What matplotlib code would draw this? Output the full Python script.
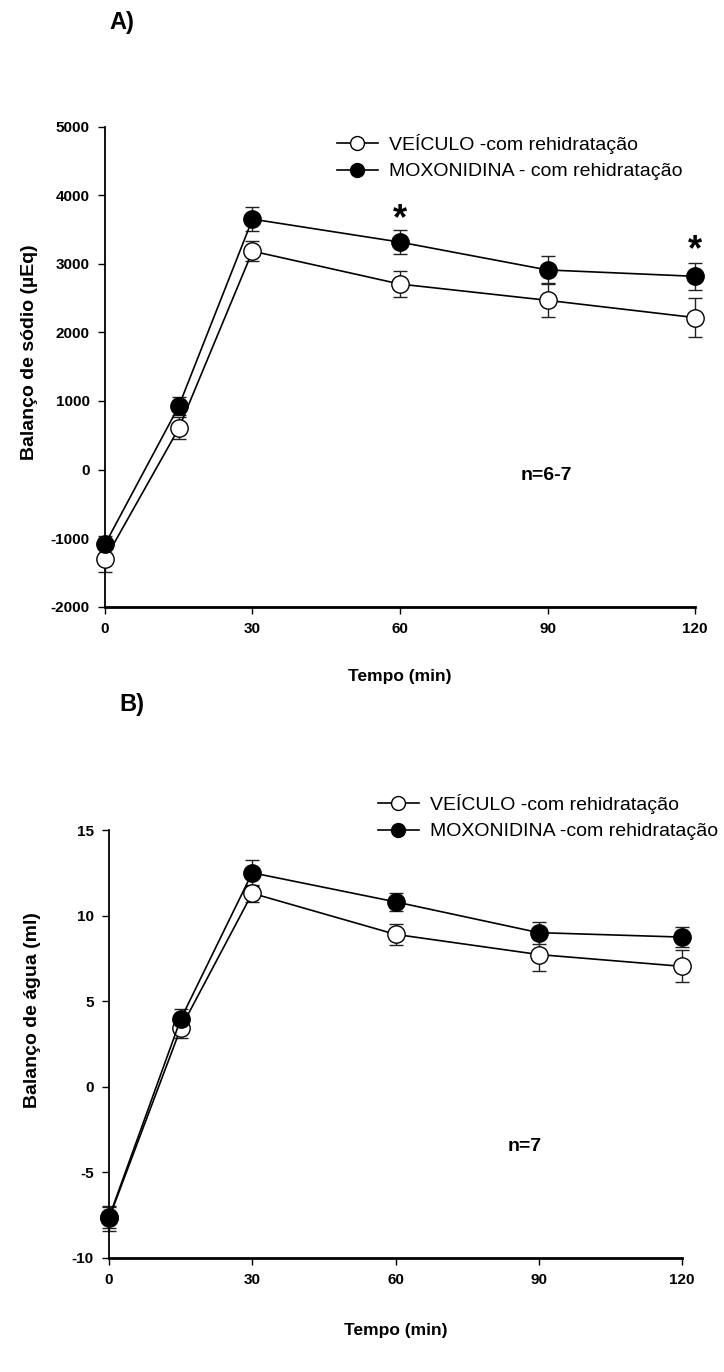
import matplotlib
matplotlib.use("Agg")
import matplotlib.pyplot as plt

plt.rcParams['font.family'] = ['Liberation Sans', 'DejaVu Sans']
plt.rcParams['axes.unicode_minus'] = False

# ---------------- data ----------------
time = [0, 15, 30, 60, 90, 120]

# Panel A: sodium balance (uEq)
veh_na = [-1310, 600, 3185, 2705, 2468, 2216]
veh_na_err = [180, 160, 145, 190, 250, 290]
mox_na = [-1090, 923, 3652, 3317, 2911, 2818]
mox_na_err = [120, 130, 170, 175, 205, 195]

# Panel B: water balance (ml)
veh_w = [-7.7, 3.4, 11.3, 8.9, 7.72, 7.03]
veh_w_err = [0.75, 0.53, 0.49, 0.6, 0.97, 0.93]
mox_w = [-7.65, 3.93, 12.5, 10.8, 9.0, 8.74]
mox_w_err = [0.6, 0.62, 0.76, 0.53, 0.64, 0.58]

xticks = [0, 30, 60, 90, 120]
yticks_a = [-2000, -1000, 0, 1000, 2000, 3000, 4000, 5000]
yticks_b = [-10, -5, 0, 5, 10, 15]

W, H = 724, 1372
fig = plt.figure(figsize=(W / 100, H / 100), dpi=100)


def px_axes(left, top, right, bottom):
    return fig.add_axes([left / W, 1 - bottom / H, (right - left) / W, (bottom - top) / H])


def style(ax):
    for s in ['top', 'right']:
        ax.spines[s].set_visible(False)
    ax.spines['left'].set_linewidth(1.3)
    ax.spines['bottom'].set_linewidth(2.0)
    ax.tick_params(direction='out', length=5, width=1.0, labelsize=11, pad=6)
    for lab in ax.get_xticklabels() + ax.get_yticklabels():
        lab.set_fontweight('bold')


def series(ax, y, err, filled, label):
    _, caps, bars = ax.errorbar(time, y, yerr=err, fmt='none', ecolor='#222222', elinewidth=1.0,
                                capsize=5, capthick=1.0, zorder=2)
    for c in caps:
        c.set_clip_on(False)
    for b in bars:
        b.set_clip_on(False)
    ax.plot(time, y, '-o', color='black', lw=1.2, ms=12.5,
            mfc='black' if filled else 'white', mec='black', mew=1.0,
            label=label, zorder=3, clip_on=False)


LEG = dict(frameon=False, fontsize=14, handlelength=2.1, handletextpad=0.55, labelspacing=0.45,
           borderpad=0, borderaxespad=0, markerscale=0.8, loc='upper left')

# ---------------- Panel A ----------------
axA = px_axes(105, 126.7, 695, 606.7)
series(axA, veh_na, veh_na_err, False, 'VEÍCULO -com rehidratação')
series(axA, mox_na, mox_na_err, True, 'MOXONIDINA - com rehidratação')
axA.set_xlim(0, 120)
axA.set_ylim(-2000, 5000)
axA.set_xticks(xticks)
axA.set_yticks(yticks_a)
axA.tick_params(axis='x', pad=10)
style(axA)
axA.set_xlabel('Tempo (min)', fontsize=12.5, fontweight='bold', labelpad=24)
fig.text(30 / W, 1 - 352 / H, 'Balanço de sódio (µEq)', rotation=90, ha='center', va='center',
         fontsize=14, fontweight='bold')
axA.text(60, mox_na[3] + 330, '*', ha='center', va='center', fontsize=26, fontweight='bold')
axA.text(120, mox_na[5] + 370, '*', ha='center', va='center', fontsize=26, fontweight='bold',
         clip_on=False)
axA.text(89.7, -80, 'n=6-7', ha='center', va='center', fontsize=14, fontweight='bold')
axA.legend(bbox_to_anchor=(337 / W, 1 - 134 / H), bbox_transform=fig.transFigure, **LEG)
fig.text(109 / W, 1 - 22 / H, 'A)', fontsize=17, fontweight='bold', va='center', ha='left')

# ---------------- Panel B ----------------
axB = px_axes(109, 830, 682, 1257.7)
series(axB, veh_w, veh_w_err, False, 'VEÍCULO -com rehidratação')
series(axB, mox_w, mox_w_err, True, 'MOXONIDINA -com rehidratação')
axB.set_xlim(0, 120)
axB.set_ylim(-10, 15)
axB.set_xticks(xticks)
axB.set_yticks(yticks_b)
axB.tick_params(axis='x', pad=12)
style(axB)
axB.set_xlabel('Tempo (min)', fontsize=12.5, fontweight='bold', labelpad=26)
fig.text(33 / W, 1 - 1010 / H, 'Balanço de água (ml)', rotation=90, ha='center', va='center',
         fontsize=14, fontweight='bold')
axB.text(87, -3.5, 'n=7', ha='center', va='center', fontsize=14, fontweight='bold')
axB.legend(bbox_to_anchor=(378 / W, 1 - 794 / H), bbox_transform=fig.transFigure, **LEG)
fig.text(119 / W, 1 - 705 / H, 'B)', fontsize=17, fontweight='bold', va='center', ha='left')

fig.savefig('out.png', dpi=100)
